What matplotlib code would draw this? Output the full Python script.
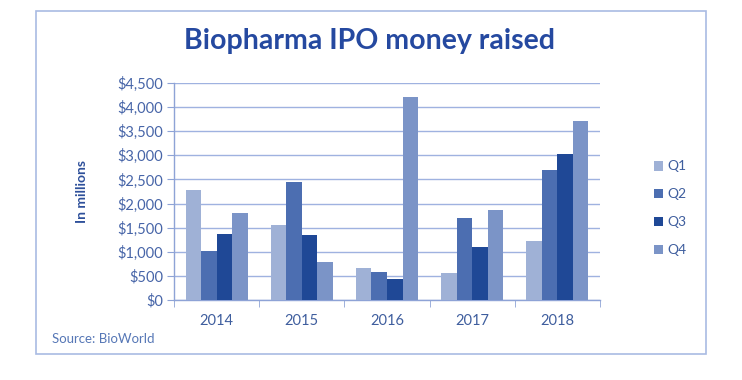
import matplotlib
matplotlib.use("Agg")
import matplotlib.pyplot as plt
import numpy as np
from matplotlib.patches import Rectangle
from matplotlib.ticker import FuncFormatter

years = ["2014", "2015", "2016", "2017", "2018"]
quarters = ["Q1", "Q2", "Q3", "Q4"]
q1 = [2280, 1555, 665, 555, 1230]
q2 = [1020, 2455, 580, 1705, 2695]
q3 = [1360, 1350, 435, 1105, 3030]
q4 = [1810, 795, 4215, 1860, 3710]
colors = ["#9fb1d6", "#4c6eb1", "#1f4896", "#7b94c7"]
yticks = list(range(0, 4501, 500))

plt.rcParams['font.family'] = ['Lato', 'DejaVu Sans']

fig = plt.figure(figsize=(7.42, 3.80), dpi=100)
fig.patch.set_facecolor("white")

# outer frame
fig.add_artist(Rectangle((35.5/742, 1-354/380), (706-35.5)/742, (354-11)/380,
                         transform=fig.transFigure, fill=False,
                         edgecolor="#a9bbe3", linewidth=1.2))

ax = fig.add_axes([174/742, 1-300/380, (600-174)/742, (300-83)/380])
x = np.arange(len(years))
w = 0.182
series = [q1, q2, q3, q4]
for i, (s, c, q) in enumerate(zip(series, colors, quarters)):
    ax.bar(x + (i - 1.5) * w, s, width=w, color=c, label=q, zorder=3)

ax.set_xlim(-0.5, len(years) - 0.5)
ax.set_ylim(0, 4500)
ax.set_yticks(yticks)
ax.yaxis.set_major_formatter(FuncFormatter(lambda v, p: "${:,.0f}".format(v)))
ax.grid(axis="y", color="#9fb2e0", linewidth=1.0, zorder=0)
ax.set_xticks(x)
ax.set_xticklabels(years)
ax.set_xticks(np.arange(-0.5, len(years)), minor=True)
ax.tick_params(axis="x", which="major", length=0, pad=10, labelsize=10.5, labelcolor="#3f5e9e")
ax.tick_params(axis="x", which="minor", length=5, color="#8ea3d6", direction="out")
ax.tick_params(axis="y", length=5, color="#8ea3d6", labelsize=10.5, labelcolor="#4765a8", pad=3)
for sp in ["top", "right"]:
    ax.spines[sp].set_visible(False)
for sp in ["left", "bottom"]:
    ax.spines[sp].set_color("#8ea3d6")
    ax.spines[sp].set_linewidth(1.0)

ax.set_ylabel("In millions", fontsize=10, fontweight="bold", color="#2d4f9a", labelpad=21)

fig.text(370/742, 1 - 41/380, "Biopharma IPO money raised", ha="center", va="center",
         fontsize=20.5, fontweight="bold", color="#2549a0")
fig.text(52/742, 1 - 339/380, "Source: BioWorld", ha="left", va="center",
         fontsize=9.5, color="#5677b6")

leg = fig.legend(loc="upper left", bbox_to_anchor=(641/742, 1 - 148/380), frameon=False,
                 handlelength=0.7, handleheight=0.7, handletextpad=0.3,
                 labelspacing=1.15, fontsize=10)
for t in leg.get_texts():
    t.set_color("#3f5e9e")

fig.savefig("out.png", dpi=100, facecolor="white")
